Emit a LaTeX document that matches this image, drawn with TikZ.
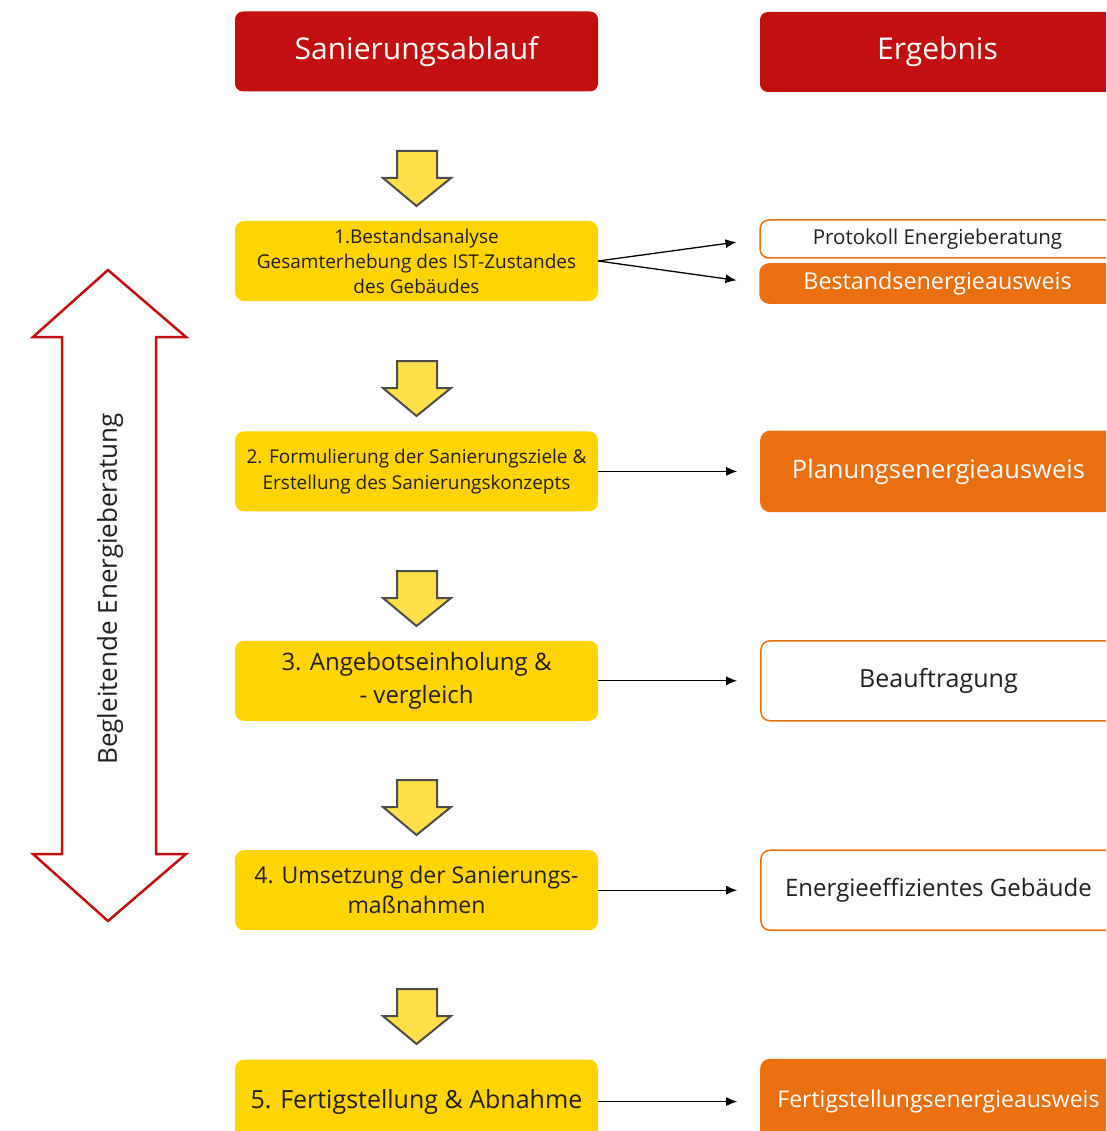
\documentclass[tikz,border=0pt]{standalone}
\usepackage{fontspec}
\setmainfont{Open Sans}
\usetikzlibrary{arrows.meta,positioning}

\definecolor{hdrred}{HTML}{C10F12}
\definecolor{stepyellow}{HTML}{FFD500}
\definecolor{arrowyellow}{HTML}{FFE04A}
\definecolor{resorange}{HTML}{E96F10}
\definecolor{txtgray}{HTML}{231F20}

\tikzset{
  header/.style={rectangle, rounded corners=8pt, fill=hdrred, text=white, minimum height=80pt, font=\fontsize{30}{36}\selectfont},
  stepbox/.style={rectangle, rounded corners=9pt, fill=stepyellow, text=txtgray, minimum width=363pt, minimum height=80pt, align=center, inner sep=0pt},
  resbox/.style={rectangle, rounded corners=9pt, draw=resorange, line width=1.5pt, fill=white, text=txtgray, minimum width=355pt, minimum height=80pt, align=center, inner sep=0pt},
  resfill/.style={resbox, fill=resorange, text=white},
  link/.style={-{Latex[length=11pt,width=9pt]}, line width=1.3pt, shorten >=23pt},
  downarrow/.style={fill=arrowyellow, draw=black!70, line width=2pt, line join=miter},
}

\begin{document}
\begin{tikzpicture}[x=1pt, y=-1pt]
    \clip (0,0) rectangle (1106,1131);
    \fill[white] (0,0) rectangle (1106,1131);

    % headers
    \node[header, minimum width=363pt] (ablauf) at (416.5,51.5) {Sanierungsablauf};
    \node[header, minimum width=355pt] (ergebnis) at (937.5,52) {Ergebnis};

    % steps
    \node[stepbox, font=\fontsize{19}{25}\selectfont] (s1) at (416.5,261) {1.Bestandsanalyse\\Gesamterhebung des IST-Zustandes\\des Gebäudes};
    \node[stepbox, below=130pt of s1, font=\fontsize{19}{26}\selectfont] (s2) {2. Formulierung der Sanierungsziele \&\\Erstellung des Sanierungskonzepts};
    \node[stepbox, below=129pt of s2, font=\fontsize{24}{33}\selectfont] (s3) {3. Angebotseinholung \&\\- vergleich};
    \node[stepbox, below=129pt of s3, font=\fontsize{23}{30}\selectfont] (s4) {4. Umsetzung der Sanierungs-\\maßnahmen};
    \node[stepbox, below=129pt of s4, minimum height=84pt, font=\fontsize{25}{30}\selectfont] (s5) {5. Fertigstellung \& Abnahme};

    % results
    \node[resbox, minimum height=38pt, font=\fontsize{20.5}{24}\selectfont] (r1a) at (937.5,239) {Protokoll Energieberatung};
    \node[resfill, minimum height=39pt, font=\fontsize{23.3}{28}\selectfont] (r1b) at (937.5,283.5) {Bestandsenergieausweis};
    \node[resfill, right=162pt of s2, font=\fontsize{25.5}{30}\selectfont] (r2) {Planungsenergieausweis};
    \node[resbox, right=162pt of s3, font=\fontsize{25}{30}\selectfont] (r3) {Beauftragung};
    \node[resbox, right=162pt of s4, font=\fontsize{24}{30}\selectfont] (r4) {Energieeffizientes Gebäude};
    \node[resfill, right=162pt of s5, minimum height=84pt, font=\fontsize{23}{28}\selectfont] (r5) {Fertigstellungsenergieausweis};

    \draw[link] (s1.east) -- (r1a.west);
    \draw[link] (s1.east) -- (r1b.west);
    \draw[link] (s2) -- (r2);
    \draw[link] (s3) -- (r3);
    \draw[link] (s4) -- (r4);
    \draw[link] (s5) -- (r5);

    % yellow arrows between steps
    \foreach \y in {151,361,571,780,989}
        \draw[downarrow, shift={(0,\y)}] (397,0) -- (437,0) -- (437,27) -- (451,27)
            -- (416.5,55) -- (383,27) -- (397,27) -- cycle;

    % accompanying consultation
    \draw[hdrred, line width=2.5pt, line join=miter] (108,270) -- (186,337) -- (156,337) -- (156,854)
        -- (186,854) -- (108,921) -- (33,854) -- (62,854) -- (62,337) -- (33,337) -- cycle;
    \node[rotate=90, text=txtgray, font=\fontsize{26}{30}\selectfont] (begleit) at (110,589) {Begleitende Energieberatung};
\end{tikzpicture}
\end{document}
